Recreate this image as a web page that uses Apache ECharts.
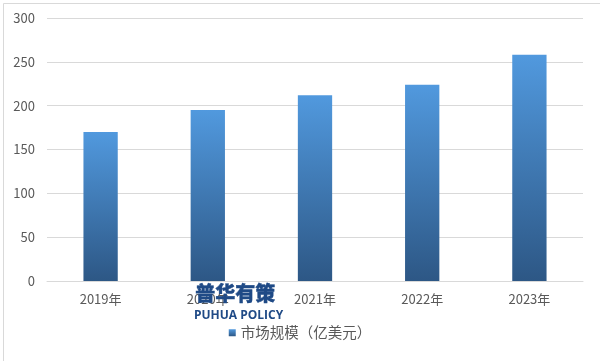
<!DOCTYPE html>
<html><head><meta charset="utf-8">
<script src="https://cdn.jsdelivr.net/npm/echarts@6/dist/echarts.min.js"></script>
<style>html,body{margin:0;padding:0;background:#fff}#c{width:600px;height:361px}</style>
</head><body><div id="c"></div>
<script>
const categories = ['2019年','2020年','2021年','2022年','2023年'];
const marketSize = [170, 195, 212, 224, 258];
const seriesName = '市场规模（亿美元）';
const yTicks = [0, 50, 100, 150, 200, 250, 300];

const chart = echarts.init(document.getElementById('c'), null, {renderer:'canvas'});
chart.setOption({
  animation: false,
  backgroundColor: '#fff',
  grid: {left: 47, right: 17, top: 18, bottom: 80},
  legend: {
    data: [seriesName], bottom: 16, left: 'center',
    itemWidth: 7, itemHeight: 7, itemGap: 4,
    icon: 'rect',
    textStyle: {color: '#595959', fontSize: 14.5, fontFamily: 'Noto Sans CJK SC'}
  },
  xAxis: {
    type: 'category', data: categories,
    axisLine: {lineStyle: {color: '#d9d9d9'}},
    axisTick: {show: false},
    axisLabel: {color: '#595959', fontSize: 13, margin: 12, fontFamily: 'Noto Sans CJK SC'}
  },
  yAxis: {
    type: 'value', min: yTicks[0], max: yTicks[yTicks.length-1], interval: 50,
    axisLine: {show: false}, axisTick: {show: false},
    splitLine: {lineStyle: {color: '#d9d9d9'}},
    axisLabel: {color: '#595959', fontSize: 13, margin: 12, fontFamily: 'Noto Sans CJK SC'}
  },
  series: [{
    name: seriesName, type: 'bar', data: marketSize, barWidth: '32%',
    itemStyle: {color: new echarts.graphic.LinearGradient(0,0,0,1,[
      {offset:0,color:'#5199DE'},{offset:1,color:'#2D5785'}])}
  }],
  graphic: [
    {type:'rect', left:1, top:1, shape:{width:597, height:358}, style:{fill:'none', stroke:'#d9d9d9', lineWidth:1}, silent:true},
    {type:'text', left:195, top:283, z:10, style:{text:'普华有策', fill:'#1F4A86', stroke:'#1F4A86', lineWidth:0.4, font:'900 20px "Noto Sans CJK SC"'}},
    {type:'text', left:194, top:310, z:10, style:{text:'PUHUA POLICY', fill:'#1F4A86', font:'bold 12px "Open Sans"'}}
  ]
});
</script></body></html>
